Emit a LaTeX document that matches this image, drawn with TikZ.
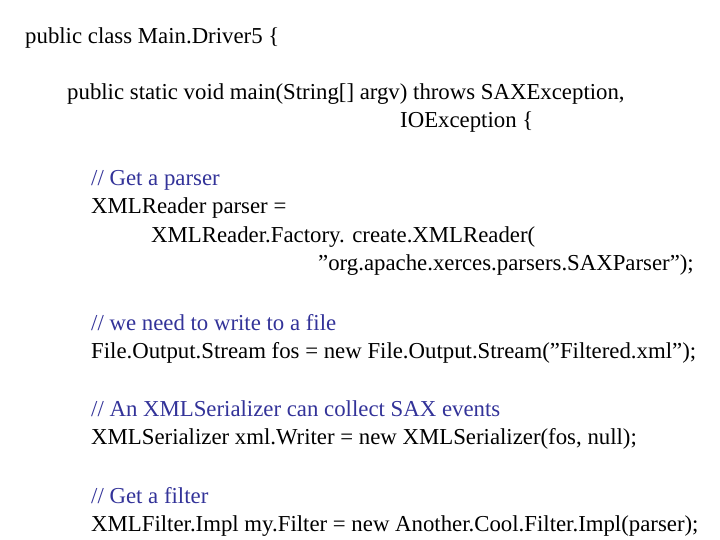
\documentclass[tikz,border=0pt]{standalone}
\usepackage{fontspec}
\setmainfont{Liberation Serif}
\definecolor{cmtblue}{RGB}{51,51,153}
\newcommand{\qt}{\symbol{34}}
\tikzset{codeline/.style={anchor=base west,inner sep=0pt,font=\fontsize{22.8}{26}\selectfont},
  cmtline/.style={codeline,text=cmtblue}}
\begin{document}
\begin{tikzpicture}[x=1pt,y=-1pt]
\useasboundingbox[fill=white] (0,0) rectangle (720,540);
% class header
\node[codeline] (l1) at (25,44) {public class Main.Driver5 \{};
\node[codeline] (l2) at (67,100) {public static void main(String[] argv) throws SAXException,};
\node[codeline] (l3) at (400,128) {IOException \{};
% parser
\node[cmtline] (c1) at (91,186) {// Get a parser};
\node[codeline] (l4) at (91,214) {XMLReader parser =};
\node[codeline] (l5) at (151,242) {XMLReader.Factory. create.XMLReader(};
\node[codeline] (l6) at (318,270) {\qt org.apache.xerces.parsers.SAXParser\qt);};
% output stream
\node[cmtline] (c2) at (91,330) {// we need to write to a file};
\node[codeline] (l7) at (91,358) {File.Output.Stream fos = new File.Output.Stream(\qt Filtered.xml\qt);};
% serializer
\node[cmtline] (c3) at (91,416) {// An XMLSerializer can collect SAX events};
\node[codeline] (l8) at (91,444) {XMLSerializer xml.Writer = new XMLSerializer(fos, null);};
% filter
\node[cmtline] (c4) at (91,503) {// Get a filter};
\node[codeline] (l9) at (91,531) {XMLFilter.Impl my.Filter = new Another.Cool.Filter.Impl(parser);};
\end{tikzpicture}
\end{document}
